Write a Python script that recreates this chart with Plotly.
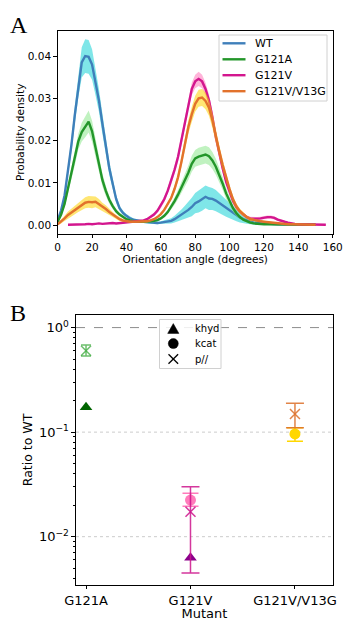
import plotly.graph_objects as go

# ---------------- Panel A: orientation-angle distributions ----------------
angles = list(range(0, 151, 2))          # WT, G121A, G121V/V13G
angles_g121v = list(range(6, 157, 2))    # G121V

wt_mean = [0.0012, 0.0035, 0.0070, 0.0125, 0.0190, 0.0262, 0.0330, 0.0385, 0.0400, 0.0398,
           0.0380, 0.0338, 0.0295, 0.0240, 0.0182, 0.0135, 0.0098, 0.0062, 0.0040, 0.0029,
           0.0022, 0.0016, 0.0013, 0.0011, 0.0009, 0.0008, 0.0007, 0.0006, 0.0005, 0.0005,
           0.0006, 0.0007, 0.0008, 0.0010, 0.0014, 0.0019, 0.0024, 0.0030, 0.0036, 0.0043,
           0.0052, 0.0056, 0.0061, 0.0067, 0.0063, 0.0062, 0.0058, 0.0052, 0.0046, 0.0040,
           0.0034, 0.0028, 0.0023, 0.0018, 0.0014, 0.0011, 0.0008, 0.0006, 0.0005, 0.0004,
           0.0003, 0.0003, 0.0003, 0.0002, 0.0002, 0.0002, 0.0002, 0.0002, 0.0001, 0.0001,
           0.0001, 0.0001, 0.0001, 0.0001, 0.0001, 0.0001]
wt_sd = [0.0003, 0.0005, 0.0008, 0.0012, 0.0016, 0.0021, 0.0028, 0.0036, 0.0040, 0.0040,
         0.0036, 0.0031, 0.0027, 0.0024, 0.0020, 0.0016, 0.0012, 0.0009, 0.0006, 0.0005,
         0.0004, 0.0004, 0.0003, 0.0003, 0.0003, 0.0003, 0.0003, 0.0003, 0.0003, 0.0003,
         0.0003, 0.0004, 0.0005, 0.0006, 0.0008, 0.0010, 0.0013, 0.0016, 0.0019, 0.0022,
         0.0024, 0.0026, 0.0027, 0.0027, 0.0027, 0.0026, 0.0025, 0.0024, 0.0022, 0.0020,
         0.0018, 0.0016, 0.0014, 0.0012, 0.0010, 0.0008, 0.0006, 0.0005, 0.0004, 0.0003,
         0.0003, 0.0002, 0.0002, 0.0002, 0.0002, 0.0002, 0.0001, 0.0001, 0.0001, 0.0001,
         0.0001, 0.0001, 0.0001, 0.0001, 0.0001, 0.0001]

g121a_mean = [0.0008, 0.0025, 0.0050, 0.0085, 0.0120, 0.0158, 0.0198, 0.0220, 0.0233, 0.0245,
              0.0222, 0.0182, 0.0140, 0.0107, 0.0081, 0.0060, 0.0045, 0.0033, 0.0025, 0.0019,
              0.0014, 0.0011, 0.0009, 0.0008, 0.0008, 0.0008, 0.0008, 0.0009, 0.0010, 0.0012,
              0.0016, 0.0022, 0.0031, 0.0043, 0.0057, 0.0072, 0.0089, 0.0106, 0.0124, 0.0145,
              0.0158, 0.0162, 0.0165, 0.0167, 0.0163, 0.0153, 0.0138, 0.0119, 0.0098, 0.0075,
              0.0056, 0.0040, 0.0028, 0.0019, 0.0013, 0.0009, 0.0006, 0.0004, 0.0003, 0.0003,
              0.0002, 0.0002, 0.0002, 0.0002, 0.0002, 0.0001, 0.0001, 0.0001, 0.0001, 0.0001,
              0.0001, 0.0001, 0.0001, 0.0001, 0.0001, 0.0001]
g121a_sd = [0.0003, 0.0005, 0.0007, 0.0010, 0.0013, 0.0016, 0.0019, 0.0022, 0.0025, 0.0026,
            0.0025, 0.0022, 0.0018, 0.0015, 0.0012, 0.0009, 0.0007, 0.0005, 0.0004, 0.0003,
            0.0003, 0.0003, 0.0003, 0.0003, 0.0003, 0.0003, 0.0003, 0.0003, 0.0003, 0.0003,
            0.0003, 0.0004, 0.0005, 0.0007, 0.0009, 0.0011, 0.0013, 0.0015, 0.0017, 0.0019,
            0.0020, 0.0021, 0.0021, 0.0021, 0.0021, 0.0020, 0.0019, 0.0017, 0.0015, 0.0013,
            0.0011, 0.0009, 0.0007, 0.0005, 0.0004, 0.0003, 0.0003, 0.0002, 0.0002, 0.0002,
            0.0001, 0.0001, 0.0001, 0.0001, 0.0001, 0.0001, 0.0001, 0.0001, 0.0001, 0.0001,
            0.0001, 0.0001, 0.0001, 0.0001, 0.0001, 0.0001]

g121v_mean = [0.0001, 0.0001, 0.0002, 0.0002, 0.0002, 0.0002, 0.0003, 0.0002, 0.0003, 0.0004,
              0.0003, 0.0004, 0.0004, 0.0005, 0.0004, 0.0005, 0.0006, 0.0007, 0.0008, 0.0009,
              0.0009, 0.0010, 0.0011, 0.0014, 0.0019, 0.0025, 0.0034, 0.0046, 0.0061, 0.0081,
              0.0104, 0.0131, 0.0161, 0.0201, 0.0245, 0.0288, 0.0322, 0.0340, 0.0346, 0.0340,
              0.0322, 0.0295, 0.0256, 0.0208, 0.0168, 0.0134, 0.0102, 0.0078, 0.0057, 0.0042,
              0.0032, 0.0025, 0.0019, 0.0016, 0.0015, 0.0015, 0.0016, 0.0018, 0.0019, 0.0019,
              0.0017, 0.0013, 0.0010, 0.0008, 0.0006, 0.0004, 0.0003, 0.0002, 0.0002, 0.0002,
              0.0001, 0.0001, 0.0001, 0.0001, 0.0001, 0.0001]
g121v_sd = [0.0001, 0.0001, 0.0001, 0.0001, 0.0001, 0.0001, 0.0001, 0.0001, 0.0001, 0.0001,
            0.0001, 0.0001, 0.0001, 0.0001, 0.0001, 0.0001, 0.0002, 0.0002, 0.0002, 0.0002,
            0.0002, 0.0002, 0.0002, 0.0003, 0.0003, 0.0004, 0.0005, 0.0006, 0.0007, 0.0008,
            0.0009, 0.0010, 0.0011, 0.0012, 0.0013, 0.0014, 0.0015, 0.0016, 0.0017, 0.0016,
            0.0015, 0.0014, 0.0013, 0.0012, 0.0011, 0.0010, 0.0009, 0.0008, 0.0007, 0.0006,
            0.0005, 0.0005, 0.0004, 0.0004, 0.0004, 0.0004, 0.0004, 0.0004, 0.0004, 0.0004,
            0.0004, 0.0003, 0.0003, 0.0002, 0.0002, 0.0001, 0.0001, 0.0001, 0.0001, 0.0001,
            0.0001, 0.0001, 0.0001, 0.0001, 0.0001, 0.0001]

g121v_v13g_mean = [0.0002, 0.0008, 0.0016, 0.0024, 0.0030, 0.0036, 0.0042, 0.0047, 0.0053, 0.0055,
                   0.0054, 0.0055, 0.0050, 0.0043, 0.0038, 0.0031, 0.0025, 0.0019, 0.0014, 0.0011,
                   0.0009, 0.0008, 0.0008, 0.0008, 0.0008, 0.0008, 0.0009, 0.0011, 0.0014, 0.0019,
                   0.0026, 0.0036, 0.0049, 0.0064, 0.0086, 0.0113, 0.0150, 0.0190, 0.0232, 0.0262,
                   0.0287, 0.0300, 0.0302, 0.0294, 0.0278, 0.0248, 0.0209, 0.0175, 0.0142, 0.0112,
                   0.0085, 0.0061, 0.0044, 0.0033, 0.0025, 0.0019, 0.0014, 0.0012, 0.0010, 0.0009,
                   0.0008, 0.0007, 0.0006, 0.0005, 0.0004, 0.0003, 0.0002, 0.0002, 0.0002, 0.0002,
                   0.0001, 0.0001, 0.0001, 0.0001, 0.0001, 0.0001]
g121v_v13g_sd = [0.0002, 0.0004, 0.0006, 0.0008, 0.0009, 0.0010, 0.0011, 0.0012, 0.0013, 0.0014,
                 0.0014, 0.0013, 0.0012, 0.0010, 0.0009, 0.0007, 0.0006, 0.0005, 0.0004, 0.0003,
                 0.0002, 0.0002, 0.0002, 0.0002, 0.0002, 0.0002, 0.0002, 0.0002, 0.0002, 0.0002,
                 0.0003, 0.0004, 0.0005, 0.0006, 0.0008, 0.0010, 0.0012, 0.0014, 0.0016, 0.0018,
                 0.0019, 0.0020, 0.0020, 0.0020, 0.0019, 0.0018, 0.0016, 0.0014, 0.0012, 0.0010,
                 0.0009, 0.0008, 0.0007, 0.0006, 0.0005, 0.0004, 0.0004, 0.0003, 0.0003, 0.0003,
                 0.0002, 0.0002, 0.0002, 0.0002, 0.0001, 0.0001, 0.0001, 0.0001, 0.0001, 0.0001,
                 0.0001, 0.0001, 0.0001, 0.0001, 0.0001, 0.0001]

# ---------------- Panel B: ratios to wild type ----------------
khyd_mutants = ["G121A", "G121V"]
khyd_ratio = [0.173, 0.0063]

kcat_mutants = ["G121V", "G121V/V13G"]
kcat_ratio = [0.0224, 0.096]
kcat_low = [0.0195, 0.082]
kcat_high = [0.026, 0.110]

ppar_mutants = ["G121A", "G121V", "G121V/V13G"]
ppar_ratio = [0.60, 0.0173, 0.149]
ppar_low = [0.536, 0.0045, 0.110]
ppar_high = [0.68, 0.030, 0.189]

FONT = "DejaVu Sans"
W, H = 344, 621


def px(x, y):
    """Canvas pixel position -> paper fraction."""
    return x / W, 1 - y / H


fig = go.Figure()

series = [
    ("WT", angles, wt_mean, wt_sd, "#3f7fba", "rgba(0,206,209,0.5)"),
    ("G121A", angles, g121a_mean, g121a_sd, "#23962a", "rgba(130,230,130,0.5)"),
    ("G121V", angles_g121v, g121v_mean, g121v_sd, "#d3168e", "rgba(255,105,180,0.5)"),
    ("G121V/V13G", angles, g121v_v13g_mean, g121v_v13g_sd, "#e2722c", "rgba(255,210,0,0.55)"),
]

for name, xs, mean, sd, line_col, band_col in series:
    lower = [m - s for m, s in zip(mean, sd)]
    upper = [m + s for m, s in zip(mean, sd)]
    fig.add_trace(go.Scatter(x=xs, y=lower, mode="lines", line=dict(width=0, color=band_col),
                             showlegend=False, hoverinfo="skip", xaxis="x", yaxis="y"))
    fig.add_trace(go.Scatter(x=xs, y=upper, mode="lines", line=dict(width=0, color=band_col),
                             fill="tonexty", fillcolor=band_col, showlegend=False,
                             hoverinfo="skip", xaxis="x", yaxis="y"))
    fig.add_trace(go.Scatter(x=xs, y=mean, mode="lines", name=name, showlegend=False,
                             line=dict(width=2.4, color=line_col), xaxis="x", yaxis="y"))

# Panel B points with asymmetric error bars
khyd_colors = ["#006400", "#8b008b"]
for m, v, c in zip(khyd_mutants, khyd_ratio, khyd_colors):
    fig.add_trace(go.Scatter(x=[m], y=[v], mode="markers", name="khyd", showlegend=False,
                             marker=dict(symbol="triangle-up", size=11, color=c),
                             xaxis="x2", yaxis="y2"))

kcat_colors = ["rgba(255,90,170,0.8)", "#ffd700"]
for m, v, lo, hi, c in zip(kcat_mutants, kcat_ratio, kcat_low, kcat_high, kcat_colors):
    fig.add_trace(go.Scatter(x=[m], y=[v], mode="markers", name="kcat", showlegend=False,
                             marker=dict(symbol="circle", size=11, color=c),
                             error_y=dict(type="data", symmetric=False, array=[hi - v],
                                          arrayminus=[v - lo], color=c, thickness=1.5, width=8),
                             xaxis="x2", yaxis="y2"))

ppar_colors = ["rgba(60,170,60,0.75)", "rgba(205,20,140,0.85)", "rgba(220,110,40,0.85)"]
ppar_caps = [5, 9, 9]
for m, v, lo, hi, c, w in zip(ppar_mutants, ppar_ratio, ppar_low, ppar_high, ppar_colors, ppar_caps):
    fig.add_trace(go.Scatter(x=[m], y=[v], mode="markers", name="p//", showlegend=False,
                             marker=dict(symbol="x-thin", size=10, color=c,
                                         line=dict(width=1.5, color=c)),
                             error_y=dict(type="data", symmetric=False, array=[hi - v],
                                          arrayminus=[v - lo], color=c, thickness=1.5, width=w),
                             xaxis="x2", yaxis="y2"))

# ---------------- Legends (drawn as shapes + text) ----------------
shapes = []
annotations = []

# Reference lines on the log panel
shapes.append(dict(type="line", xref="x2 domain", x0=0, x1=1, yref="y2", y0=1, y1=1,
                   line=dict(color="#8c8c8c", width=1, dash="dash"), layer="below"))
for gy in [0.1, 0.01]:
    shapes.append(dict(type="line", xref="x2 domain", x0=0, x1=1, yref="y2", y0=gy, y1=gy,
                       line=dict(color="#cccccc", width=1, dash="dot"), layer="below"))

# Legend of panel A
bx0, by0 = px(219, 35)
bx1, by1 = px(327, 101)
shapes.append(dict(type="rect", xref="paper", yref="paper", x0=bx0, y0=by0, x1=bx1, y1=by1,
                   line=dict(color="#d0d0d0", width=1), fillcolor="rgba(255,255,255,0.85)",
                   layer="above"))
row_y = [43.3, 59.3, 75.2, 91.2]
for (name, _, _, _, line_col, _), ry in zip(series, row_y):
    lx0, ly = px(222.5, ry)
    lx1, _ = px(245.5, ry)
    shapes.append(dict(type="line", xref="paper", yref="paper", x0=lx0, x1=lx1, y0=ly, y1=ly,
                       line=dict(color=line_col, width=2.4), layer="above"))
    tx, _ = px(253, ry)
    annotations.append(dict(text=name, x=tx, y=ly, xref="paper", yref="paper",
                            xanchor="left", yanchor="middle", showarrow=False,
                            font=dict(size=11)))

# Legend of panel B (black key markers)
cx0, cy0 = px(159.5, 319.5)
cx1, cy1 = px(221, 368.5)
shapes.append(dict(type="rect", xref="paper", yref="paper", x0=cx0, y0=cy0, x1=cx1, y1=cy1,
                   line=dict(color="#d0d0d0", width=1), fillcolor="rgba(255,255,255,0.85)",
                   layer="above"))
kx = 173.3
k_rows = [("khyd", 328.6), ("kcat", 343.6), ("p//", 359.0)]
# triangle key
t1, t2, t3 = px(kx - 5.6, 333.4), px(kx + 5.6, 333.4), px(kx, 323.6)
shapes.append(dict(type="path", xref="paper", yref="paper",
                   path=f"M {t1[0]} {t1[1]} L {t2[0]} {t2[1]} L {t3[0]} {t3[1]} Z",
                   fillcolor="black", line=dict(color="black", width=0.5), layer="above"))
# circle key
c1, c2 = px(kx - 5, 338.6), px(kx + 5, 348.6)
shapes.append(dict(type="circle", xref="paper", yref="paper", x0=c1[0], y0=c2[1],
                   x1=c2[0], y1=c1[1], fillcolor="black", line=dict(color="black", width=0.5),
                   layer="above"))
# cross key
for (ax, ay), (bxx, byy) in [((kx - 4.8, 354.2), (kx + 4.8, 363.8)),
                             ((kx - 4.8, 363.8), (kx + 4.8, 354.2))]:
    p1, p2 = px(ax, ay), px(bxx, byy)
    shapes.append(dict(type="line", xref="paper", yref="paper", x0=p1[0], y0=p1[1],
                       x1=p2[0], y1=p2[1], line=dict(color="black", width=1.3), layer="above"))
for label, ry in k_rows:
    tx, ty = px(192.5, ry)
    annotations.append(dict(text=label, x=tx, y=ty, xref="paper", yref="paper",
                            xanchor="left", yanchor="middle", showarrow=False,
                            font=dict(size=10)))

# Panel letters
for letter, ly in [("A", 10), ("B", 298)]:
    lx, lyy = px(8, ly)
    annotations.append(dict(text=letter, x=lx, y=lyy, xref="paper", yref="paper",
                            xanchor="left", yanchor="top", showarrow=False,
                            font=dict(family="Liberation Serif", size=24)))

axis_common = dict(showline=True, linecolor="black", linewidth=1, mirror=True,
                   ticks="outside", ticklen=3.5, tickwidth=1, tickcolor="black",
                   zeroline=False, automargin=False, showgrid=False)

minor_vals = [0.004, 0.005, 0.006, 0.007, 0.008, 0.009,
              0.02, 0.03, 0.04, 0.05, 0.06, 0.07, 0.08, 0.09,
              0.2, 0.3, 0.4, 0.5, 0.6, 0.7, 0.8, 0.9]

fig.update_layout(
    width=W, height=H,
    margin=dict(l=0, r=0, t=0, b=0, autoexpand=False),
    paper_bgcolor="white", plot_bgcolor="white",
    font=dict(family=FONT, size=10.5, color="black"),
    showlegend=False,
    xaxis=dict(domain=[0.1677, 0.9672], anchor="y", range=[0, 160], tick0=0, dtick=20,
               tickfont=dict(size=10.5),
               title=dict(text="Orientation angle (degrees)", font=dict(size=10.5), standoff=3),
               **axis_common),
    yaxis=dict(domain=[0.6232, 0.9506], anchor="x", range=[-0.0021, 0.046],
               tickvals=[0, 0.01, 0.02, 0.03, 0.04], tickformat=".2f",
               tickfont=dict(size=10.5),
               title=dict(text="Probability density", font=dict(size=10.5), standoff=1),
               **axis_common),
    xaxis2=dict(domain=[0.2209, 0.968], anchor="y2", type="category",
                categoryorder="array", categoryarray=ppar_mutants, range=[-0.096, 2.364],
                tickfont=dict(size=13),
                title=dict(text="Mutant", font=dict(size=13), standoff=4),
                **axis_common),
    yaxis2=dict(domain=[0.058, 0.4928], anchor="x2", type="log", range=[-2.462, 0.1206],
                tickvals=[0.01, 0.1, 1],
                ticktext=["10<sup>\u22122</sup>", "10<sup>\u22121</sup>", "10<sup>0</sup>"],
                tickfont=dict(size=13),
                minor=dict(tickmode="array", tickvals=minor_vals, ticks="outside",
                           ticklen=2, tickcolor="black", showgrid=False),
                title=dict(text="Ratio to WT", font=dict(size=12.5), standoff=3),
                **axis_common),
    shapes=shapes,
    annotations=annotations,
)

fig.write_html("out.html", config={"displayModeBar": False})
